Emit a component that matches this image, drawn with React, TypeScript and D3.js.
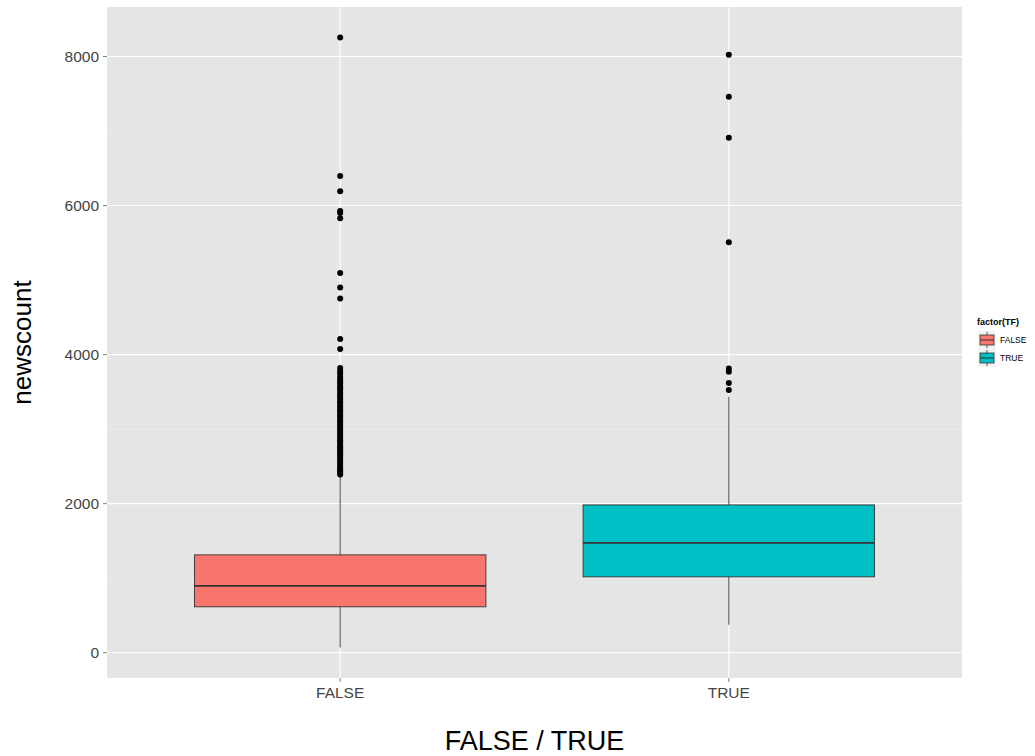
import { useRef, useEffect } from 'react'
import * as d3 from 'd3'

// groups and boxplot statistics
const groups = ['FALSE', 'TRUE']
const colors = ['#F8766D', '#00BFC4']
const lowerWhisker = [70, 375]
const q1 = [616, 1018]
const median = [898, 1474]
const q3 = [1313, 1983]
const upperWhisker = [2360, 3435]

const outliersFalse = [
  8255, 6396, 6191, 5927, 5900, 5829, 5096, 4900, 4753, 4208, 4074,
  3819, 3780, 3745, 3702, 3668, 3640, 3612, 3575, 3548, 3524, 3490,
  3457, 3431, 3405, 3372, 3350, 3318, 3290, 3262, 3240, 3205, 3180,
  3152, 3120, 3098, 3070, 3041, 3015, 2990, 2962, 2935, 2908, 2880,
  2851, 2826, 2800, 2772, 2745, 2718, 2690, 2664, 2640, 2612, 2585,
  2560, 2532, 2505, 2478, 2452, 2430, 2410, 2392,
]
const outliersTrue = [8023, 7460, 6911, 5508, 3815, 3770, 3618, 3524]
const outliers = [outliersFalse, outliersTrue]

const yTicks = [0, 2000, 4000, 6000, 8000]
const yMinor = [1000, 3000, 5000, 7000]

const W = 1035
const H = 756
const margin = { top: 7, right: 73, bottom: 78, left: 107 }
const FONT = 'Liberation Sans, Arial, sans-serif'

const App = () => {
  const svgRef = useRef<SVGSVGElement>(null)

  useEffect(() => {
    if (!svgRef.current) return
    const svg = d3.select(svgRef.current)
    svg.selectAll('*').remove()

    const pw = W - margin.left - margin.right
    const ph = H - margin.top - margin.bottom

    const allVals = [...lowerWhisker, ...outliersFalse, ...outliersTrue]
    const lo = d3.min(allVals) as number
    const hi = d3.max(allVals) as number
    const pad = (hi - lo) * 0.05

    const y = d3.scaleLinear().domain([lo - pad, hi + pad]).range([ph, 0])
    const x = d3.scaleLinear().domain([0.4, groups.length + 0.6]).range([0, pw])
    const boxW = x(0.75) - x(0)

    const g = svg.append('g').attr('transform', `translate(${margin.left},${margin.top})`)

    g.append('rect').attr('width', pw).attr('height', ph).attr('fill', '#E5E5E5')

    g.selectAll('.minor')
      .data(yMinor)
      .enter()
      .append('line')
      .attr('x1', 0).attr('x2', pw)
      .attr('y1', d => y(d)).attr('y2', d => y(d))
      .attr('stroke', '#F2F2F2').attr('stroke-width', 0.6)

    g.selectAll('.major')
      .data(yTicks)
      .enter()
      .append('line')
      .attr('x1', 0).attr('x2', pw)
      .attr('y1', d => y(d)).attr('y2', d => y(d))
      .attr('stroke', '#FFFFFF').attr('stroke-width', 1.1)

    g.selectAll('.vmajor')
      .data(groups)
      .enter()
      .append('line')
      .attr('x1', (_, i) => x(i + 1)).attr('x2', (_, i) => x(i + 1))
      .attr('y1', 0).attr('y2', ph)
      .attr('stroke', '#FFFFFF').attr('stroke-width', 1.1)

    groups.forEach((_, i) => {
      const cx = x(i + 1)
      // whiskers
      g.append('line')
        .attr('x1', cx).attr('x2', cx)
        .attr('y1', y(q3[i])).attr('y2', y(upperWhisker[i]))
        .attr('stroke', '#333333').attr('stroke-width', 0.9)
      g.append('line')
        .attr('x1', cx).attr('x2', cx)
        .attr('y1', y(q1[i])).attr('y2', y(lowerWhisker[i]))
        .attr('stroke', '#333333').attr('stroke-width', 0.9)
      // box
      g.append('rect')
        .attr('x', cx - boxW / 2)
        .attr('y', y(q3[i]))
        .attr('width', boxW)
        .attr('height', y(q1[i]) - y(q3[i]))
        .attr('fill', colors[i])
        .attr('stroke', '#333333')
        .attr('stroke-width', 0.9)
      g.append('line')
        .attr('x1', cx - boxW / 2).attr('x2', cx + boxW / 2)
        .attr('y1', y(median[i])).attr('y2', y(median[i]))
        .attr('stroke', '#333333').attr('stroke-width', 1.8)
      // outliers
      g.selectAll(`.out${i}`)
        .data(outliers[i])
        .enter()
        .append('circle')
        .attr('cx', cx)
        .attr('cy', d => y(d))
        .attr('r', 3)
        .attr('fill', '#000000')
    })

    // y axis
    const yAxis = g.append('g')
    yTicks.forEach(t => {
      yAxis.append('line')
        .attr('x1', -4).attr('x2', 0)
        .attr('y1', y(t)).attr('y2', y(t))
        .attr('stroke', '#7F7F7F').attr('stroke-width', 1)
      yAxis.append('text')
        .attr('x', -8).attr('y', y(t))
        .attr('dy', '0.35em')
        .attr('text-anchor', 'end')
        .attr('font-family', FONT)
        .attr('font-size', '15.5px')
        .attr('fill', '#444444')
        .text(t)
    })

    // x axis
    groups.forEach((name, i) => {
      g.append('line')
        .attr('x1', x(i + 1)).attr('x2', x(i + 1))
        .attr('y1', ph).attr('y2', ph + 4)
        .attr('stroke', '#7F7F7F').attr('stroke-width', 1)
      g.append('text')
        .attr('x', x(i + 1)).attr('y', ph + 20)
        .attr('text-anchor', 'middle')
        .attr('font-family', FONT)
        .attr('font-size', '15.5px')
        .attr('fill', '#444444')
        .text(name)
    })

    svg.append('text')
      .attr('x', margin.left + pw / 2).attr('y', 750)
      .attr('text-anchor', 'middle')
      .attr('font-family', FONT)
      .attr('font-size', '27px')
      .attr('fill', '#000000')
      .text('FALSE / TRUE')

    svg.append('text')
      .attr('transform', `translate(31,${margin.top + ph / 2}) rotate(-90)`)
      .attr('text-anchor', 'middle')
      .attr('font-family', FONT)
      .attr('font-size', '26px')
      .attr('fill', '#000000')
      .text('newscount')

    // legend
    const lg = svg.append('g').attr('transform', 'translate(977,318)')
    lg.append('text')
      .attr('x', 0).attr('y', 7)
      .attr('font-family', FONT)
      .attr('font-size', '9px')
      .attr('font-weight', 'bold')
      .attr('fill', '#000000')
      .text('factor(TF)')
    groups.forEach((name, i) => {
      const ky = 13 + i * 18
      lg.append('rect')
        .attr('x', 1).attr('y', ky)
        .attr('width', 18).attr('height', 18)
        .attr('fill', '#F2F2F2')
      lg.append('line')
        .attr('x1', 10).attr('x2', 10)
        .attr('y1', ky + 1).attr('y2', ky + 17)
        .attr('stroke', '#333333').attr('stroke-width', 0.8)
      lg.append('rect')
        .attr('x', 3).attr('y', ky + 4)
        .attr('width', 14).attr('height', 10)
        .attr('fill', colors[i])
        .attr('stroke', '#333333').attr('stroke-width', 0.8)
      lg.append('line')
        .attr('x1', 3).attr('x2', 17)
        .attr('y1', ky + 9).attr('y2', ky + 9)
        .attr('stroke', '#333333').attr('stroke-width', 1)
      lg.append('text')
        .attr('x', 23).attr('y', ky + 9)
        .attr('dy', '0.35em')
        .attr('font-family', FONT)
        .attr('font-size', '8.5px')
        .attr('fill', '#000000')
        .text(name)
    })
  }, [])

  return (
    <svg
      ref={svgRef}
      width={W}
      height={H}
      style={{ position: 'absolute', left: 0, top: 0, background: '#FFFFFF' }}
    />
  )
}

export default App
